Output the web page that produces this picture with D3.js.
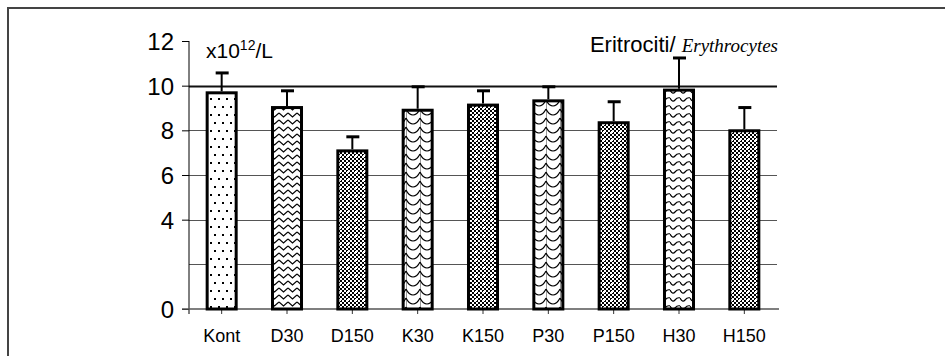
<!DOCTYPE html>
<html>
<head>
<meta charset="utf-8">
<script src="https://cdn.jsdelivr.net/npm/d3@7"></script>
<style>
  body { margin: 0; background: #fff; }
  text { font-family: Arial, 'Liberation Sans', sans-serif; fill: #000; }
</style>
</head>
<body>
<svg></svg>
<script>
// values (x10^12/L)
const categories = ['Kont', 'D30', 'D150', 'K30', 'K150', 'P30', 'P150', 'H30', 'H150'];
const means = [9.68, 9.02, 7.08, 8.90, 9.13, 9.32, 8.34, 9.80, 7.98];
const errors = [0.89, 0.75, 0.63, 1.05, 0.64, 0.63, 0.94, 1.44, 1.04];
const fills = ['dots', 'chevron', 'dark', 'uwave', 'dark', 'uwave', 'dark', 'wave', 'dark'];
const yTickLabels = [0, 4, 6, 8, 10, 12];
const gridValues = [2, 4, 6, 8, 10];

const size = {w: 945, h: 356};
const plot = {l: 189, r: 777, t: 41, b: 309};
const svg = d3.select('svg')
    .attr('width', size.w)
    .attr('height', size.h);

// patterns for the bars
const defs = svg.append('defs');

let p = defs.append('pattern').attr('id', 'dots')
    .attr('patternUnits', 'userSpaceOnUse').attr('width', 16).attr('height', 16);
p.append('rect').attr('width', 16).attr('height', 16).attr('fill', '#fff');
[[3, 3], [11, 3], [7, 11], [15, 11]].forEach(d => {
    p.append('rect').attr('x', d[0] - 1).attr('y', d[1] - 1).attr('width', 2).attr('height', 2).attr('fill', '#000');
});

p = defs.append('pattern').attr('id', 'chevron')
    .attr('patternUnits', 'userSpaceOnUse').attr('width', 9).attr('height', 7);
p.append('rect').attr('width', 9).attr('height', 7).attr('fill', '#fff');
p.append('path').attr('d', 'M0,1 L4.5,5 L9,1').attr('fill', 'none').attr('stroke', '#000').attr('stroke-width', 1.2);

p = defs.append('pattern').attr('id', 'uwave')
    .attr('patternUnits', 'userSpaceOnUse').attr('width', 14).attr('height', 9);
p.append('rect').attr('width', 14).attr('height', 9).attr('fill', '#fff');
p.append('path').attr('d', 'M0,1 Q3,7 7,7 Q11,7 14,1').attr('fill', 'none').attr('stroke', '#000').attr('stroke-width', 1.2);
p.append('line').attr('x1', 0).attr('x2', 0).attr('y1', 0).attr('y2', 9).attr('stroke', '#000').attr('stroke-width', 0.8);

p = defs.append('pattern').attr('id', 'wave')
    .attr('patternUnits', 'userSpaceOnUse').attr('width', 10).attr('height', 8);
p.append('rect').attr('width', 10).attr('height', 8).attr('fill', '#fff');
p.append('path').attr('d', 'M0,2 Q2.5,7 5,4 Q7.5,1 10,2').attr('fill', 'none').attr('stroke', '#000').attr('stroke-width', 1.2);

p = defs.append('pattern').attr('id', 'dark')
    .attr('patternUnits', 'userSpaceOnUse').attr('width', 8).attr('height', 8);
p.append('rect').attr('width', 8).attr('height', 8).attr('fill', '#fff');
for (let i = 0; i < 4; i++) {
    for (let j = 0; j < 4; j++) {
        if ((i + j) % 2 === 0) {
            p.append('rect').attr('x', i * 2).attr('y', j * 2).attr('width', 2).attr('height', 2).attr('fill', '#000');
        }
    }
}
p.append('rect').attr('x', 3).attr('y', 3).attr('width', 2).attr('height', 2).attr('fill', '#fff');

// outer frame (only top and left edges show)
svg.append('path')
    .attr('d', `M8,${size.h} L8,8 L${size.w},8`)
    .attr('fill', 'none')
    .attr('stroke', '#444')
    .attr('stroke-width', 2);

const x = d3.scaleBand()
    .domain(categories)
    .range([plot.l, plot.r])
    .paddingInner(0.556)
    .paddingOuter(0.278);

const y = d3.scaleLinear()
    .domain([0, 12])
    .range([plot.b, plot.t]);

// gridlines
svg.append('g')
    .selectAll('line')
    .data(gridValues)
    .join('line')
    .attr('x1', plot.l).attr('x2', plot.r)
    .attr('y1', d => Math.round(y(d)) + 0.5).attr('y2', d => Math.round(y(d)) + 0.5)
    .attr('stroke', d => d === 10 ? '#111' : '#555')
    .attr('stroke-width', d => d === 10 ? 2 : 1);

// y axis
const yAxis = svg.append('g')
    .attr('transform', `translate(${plot.l},0)`)
    .call(d3.axisLeft(y).tickValues(yTickLabels).tickSize(7).tickSizeOuter(0).tickPadding(8).tickFormat(d3.format('d')));
yAxis.select('.domain').attr('stroke', '#000').attr('d', `M0,${y(12)}V${plot.b + 5}`);
yAxis.selectAll('.tick line').attr('stroke', '#000');
yAxis.selectAll('.tick text')
    .attr('font-size', 24)
    .attr('font-family', 'Arial, Liberation Sans, sans-serif')
    .attr('dy', '0.36em');

// x axis
const xAxis = svg.append('g')
    .attr('transform', `translate(0,${plot.b})`)
    .call(d3.axisBottom(x).tickSize(5).tickSizeOuter(0).tickPadding(15));
xAxis.select('.domain').attr('stroke', '#555').attr('stroke-width', 1.5).attr('d', `M${plot.l - 7},0H${plot.r + 2}`);
xAxis.selectAll('.tick line').attr('stroke', '#333');
xAxis.selectAll('.tick text')
    .attr('font-size', 18)
    .attr('font-family', 'Arial, Liberation Sans, sans-serif');

// bars
svg.append('g')
    .selectAll('rect')
    .data(categories)
    .join('rect')
    .attr('x', d => x(d))
    .attr('y', (d, i) => y(means[i]))
    .attr('width', x.bandwidth())
    .attr('height', (d, i) => y(0) - y(means[i]))
    .attr('fill', (d, i) => `url(#${fills[i]})`)
    .attr('stroke', '#000')
    .attr('stroke-width', 3);

// error bars (upper half only)
const err = svg.append('g').attr('stroke', '#000');
err.selectAll('line.stem')
    .data(categories)
    .join('line')
    .attr('class', 'stem')
    .attr('x1', d => x(d) + x.bandwidth() / 2)
    .attr('x2', d => x(d) + x.bandwidth() / 2)
    .attr('y1', (d, i) => y(means[i]) - 1.5)
    .attr('y2', (d, i) => y(means[i] + errors[i]))
    .attr('stroke-width', 2);
err.selectAll('line.cap')
    .data(categories)
    .join('line')
    .attr('class', 'cap')
    .attr('x1', d => x(d) + x.bandwidth() / 2 - 6)
    .attr('x2', d => x(d) + x.bandwidth() / 2 + 7)
    .attr('y1', (d, i) => y(means[i] + errors[i]))
    .attr('y2', (d, i) => y(means[i] + errors[i]))
    .attr('stroke-width', 3);

// unit label
const unit = svg.append('text')
    .attr('x', 206)
    .attr('y', 58)
    .attr('font-size', 21);
unit.append('tspan').text('x10');
unit.append('tspan').attr('font-size', 14).attr('dy', -8).text('12');
unit.append('tspan').attr('dy', 8).text('/L');

// title
const title = svg.append('text')
    .attr('x', 778)
    .attr('y', 52)
    .attr('text-anchor', 'end')
    .attr('font-size', 22);
title.append('tspan').text('Eritrociti/ ');
title.append('tspan')
    .attr('font-family', "'Liberation Serif', 'Times New Roman', serif")
    .attr('font-style', 'italic')
    .attr('font-size', 19)
    .text('Erythrocytes');
</script>
</body>
</html>
